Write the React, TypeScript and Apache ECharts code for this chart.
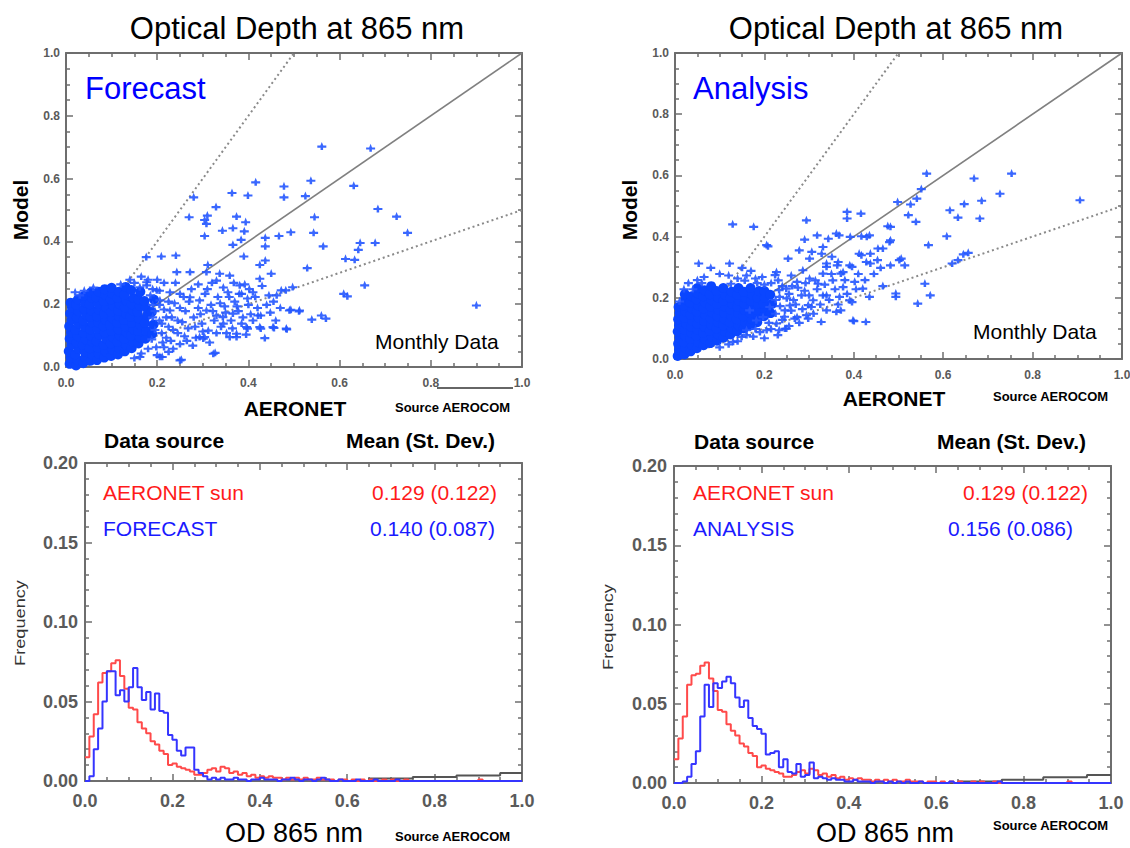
import React, { useEffect, useRef } from "react";
import * as echarts from "echarts";

const FONT = '"Liberation Sans", Arial, Helvetica, sans-serif';
const BIN = 0.01;
const AXIS_COLOR = "#6e6e6e";
const POINT_COLOR = "#2457ff";
const CORE_COLOR = "#0a46ff";

// ---- scatter: Forecast vs AERONET ----
const forecastCore = [
  [0.008,0.010],[0.010,0.030],[0.006,0.050],[0.012,0.070],[0.008,0.090],[0.011,0.110],[0.007,0.130],[0.012,0.150],[0.009,0.170],[0.013,0.190],[0.010,0.205],
  [0.022,0.005],[0.025,0.022],[0.020,0.040],[0.027,0.058],[0.023,0.078],[0.026,0.098],[0.021,0.118],[0.028,0.138],[0.024,0.158],[0.027,0.178],[0.022,0.198],[0.026,0.215],
  [0.038,0.012],[0.042,0.030],[0.040,0.050],[0.037,0.070],[0.043,0.088],[0.039,0.108],[0.041,0.128],[0.038,0.148],[0.044,0.166],[0.040,0.186],[0.042,0.206],[0.039,0.226],
  [0.054,0.020],[0.057,0.040],[0.052,0.060],[0.058,0.080],[0.055,0.100],[0.053,0.120],[0.058,0.140],[0.054,0.160],[0.056,0.180],[0.052,0.200],[0.057,0.220],[0.055,0.238],
  [0.068,0.022],[0.072,0.042],[0.070,0.062],[0.067,0.082],[0.073,0.102],[0.069,0.122],[0.071,0.142],[0.068,0.162],[0.072,0.182],[0.070,0.202],[0.066,0.222],[0.072,0.240],
  [0.084,0.030],[0.087,0.050],[0.083,0.070],[0.088,0.090],[0.085,0.110],[0.082,0.130],[0.087,0.150],[0.084,0.170],[0.088,0.190],[0.083,0.210],[0.086,0.230],[0.085,0.248],
  [0.099,0.035],[0.102,0.055],[0.098,0.075],[0.103,0.095],[0.100,0.115],[0.097,0.135],[0.102,0.155],[0.099,0.175],[0.103,0.195],[0.098,0.215],[0.101,0.235],[0.100,0.252],
  [0.114,0.040],[0.117,0.060],[0.113,0.080],[0.118,0.100],[0.115,0.120],[0.112,0.140],[0.117,0.160],[0.114,0.180],[0.118,0.200],[0.113,0.220],[0.116,0.240],
  [0.129,0.050],[0.132,0.070],[0.128,0.090],[0.133,0.110],[0.130,0.130],[0.127,0.150],[0.132,0.170],[0.129,0.190],[0.133,0.210],[0.128,0.230],[0.131,0.255],
  [0.144,0.060],[0.147,0.080],[0.143,0.100],[0.148,0.120],[0.145,0.140],[0.142,0.160],[0.147,0.180],[0.144,0.200],[0.148,0.220],[0.143,0.245],
  [0.159,0.075],[0.162,0.095],[0.158,0.115],[0.163,0.135],[0.160,0.155],[0.157,0.175],[0.162,0.195],[0.159,0.215],[0.163,0.240],
  [0.174,0.090],[0.177,0.115],[0.173,0.140],[0.178,0.165],[0.175,0.190],[0.172,0.210],
  [0.189,0.105],[0.192,0.135],[0.188,0.175],[0.193,0.215],
];
const forecastSpread = [
  [0.243,0.304],[0.272,0.304],[0.308,0.304],[0.330,0.277],[0.337,0.299],[0.359,0.293],[0.381,0.262],[0.385,0.235],[0.410,0.240],[0.425,0.283],
  [0.450,0.299],[0.472,0.246],[0.497,0.256],[0.512,0.182],[0.490,0.182],[0.421,0.166],[0.396,0.129],[0.374,0.108],[0.359,0.097],[0.425,0.129],
  [0.454,0.129],[0.483,0.124],[0.323,0.044],[0.293,0.097],[0.301,0.092],[0.206,0.034],[0.250,0.023],[0.162,0.034],[0.293,0.214],[0.308,0.182],
  [0.330,0.166],[0.344,0.161],[0.366,0.172],[0.272,0.224],[0.250,0.235],[0.228,0.182],[0.206,0.214],[0.199,0.246],[0.177,0.272],[0.162,0.256],
  [0.020,0.240],[0.195,0.120],[0.205,0.150],[0.215,0.185],[0.220,0.095],[0.225,0.130],[0.232,0.160],[0.238,0.205],[0.245,0.110],[0.250,0.075],
  [0.255,0.145],[0.262,0.180],[0.268,0.125],[0.275,0.250],[0.280,0.160],[0.285,0.095],[0.290,0.190],[0.298,0.140],[0.305,0.235],[0.312,0.118],
  [0.318,0.200],[0.325,0.150],[0.333,0.225],[0.340,0.130],[0.348,0.195],[0.355,0.240],[0.362,0.150],[0.370,0.210],[0.378,0.180],[0.385,0.140],
  [0.392,0.265],[0.400,0.200],[0.405,0.170],[0.415,0.225],[0.198,0.065],[0.212,0.080],[0.235,0.060],[0.265,0.085],[0.240,0.270],[0.258,0.225],
  [0.290,0.265],[0.320,0.270],[0.345,0.255],[0.200,0.280],[0.185,0.230],[0.190,0.200],[0.190,0.160],[0.188,0.090],[0.205,0.245],[0.228,0.240],
  [0.210,0.110],[0.225,0.050],[0.352,0.110],[0.368,0.270],[0.395,0.105],[0.410,0.150],[0.440,0.200],[0.448,0.175],[0.460,0.150],
  [0.150,0.030],[0.165,0.045],[0.180,0.060],[0.200,0.040],[0.215,0.065],[0.230,0.085],[0.245,0.150],[0.250,0.190],[0.260,0.100],[0.270,0.210],
  [0.278,0.070],[0.283,0.130],[0.295,0.170],[0.300,0.115],[0.310,0.250],[0.315,0.080],[0.322,0.180],[0.330,0.110],[0.338,0.205],[0.345,0.140],
  [0.350,0.175],[0.358,0.225],[0.365,0.125],[0.375,0.195],[0.380,0.235],[0.388,0.160],[0.398,0.220],[0.402,0.250],[0.420,0.190],[0.430,0.260],
  [0.445,0.230],[0.455,0.210],[0.470,0.190],[0.215,0.270],[0.225,0.210],[0.235,0.120],[0.195,0.180],[0.205,0.200],[0.210,0.140],[0.220,0.160],
  [0.180,0.280],[0.165,0.290],[0.150,0.270],[0.140,0.280],[0.120,0.265],[0.060,0.255],[0.040,0.245],[0.030,0.230],[0.177,0.262],[0.190,0.250],
];
const forecastOutliers = [
  [0.561,0.704],[0.668,0.698],[0.416,0.590],[0.478,0.577],[0.537,0.595],[0.631,0.579],[0.364,0.556],[0.399,0.548],[0.478,0.542],[0.525,0.546],
  [0.280,0.542],[0.329,0.511],[0.310,0.484],[0.304,0.470],[0.270,0.479],[0.374,0.481],[0.394,0.463],[0.545,0.479],[0.684,0.505],[0.725,0.481],
  [0.749,0.429],[0.343,0.436],[0.366,0.444],[0.391,0.434],[0.304,0.419],[0.437,0.413],[0.467,0.419],[0.493,0.431],[0.543,0.429],[0.384,0.407],
  [0.366,0.391],[0.437,0.386],[0.564,0.386],[0.645,0.397],[0.678,0.397],[0.641,0.375],[0.390,0.354],[0.176,0.352],[0.209,0.354],[0.241,0.357],
  [0.425,0.327],[0.437,0.341],[0.613,0.346],[0.633,0.343],[0.311,0.327],[0.529,0.317],[0.655,0.262],[0.609,0.235],[0.617,0.227],[0.482,0.246],
  [0.462,0.230],[0.900,0.198],[0.493,0.184],[0.511,0.179],[0.539,0.153],[0.560,0.166],[0.570,0.156],[0.427,0.166],[0.427,0.124],[0.456,0.126],
  [0.484,0.122],[0.436,0.094],[0.398,0.124],[0.374,0.097],[0.327,0.047],[0.253,0.025],[0.211,0.034],[0.304,0.097],[0.308,0.458],
];

// ---- scatter: Analysis vs AERONET ----
const analysisCore = [
  [0.006,0.010],[0.009,0.030],[0.007,0.050],[0.010,0.070],[0.006,0.090],[0.009,0.110],[0.007,0.130],[0.010,0.150],[0.008,0.170],
  [0.021,0.015],[0.024,0.035],[0.020,0.055],[0.023,0.075],[0.022,0.095],[0.025,0.115],[0.021,0.135],[0.024,0.155],[0.020,0.175],[0.023,0.195],[0.022,0.212],
  [0.035,0.025],[0.038,0.045],[0.034,0.065],[0.037,0.085],[0.036,0.105],[0.039,0.125],[0.035,0.145],[0.038,0.165],[0.034,0.185],[0.037,0.205],
  [0.049,0.035],[0.052,0.055],[0.048,0.075],[0.051,0.095],[0.050,0.115],[0.053,0.135],[0.049,0.155],[0.052,0.175],[0.048,0.195],[0.051,0.215],[0.050,0.232],
  [0.064,0.045],[0.067,0.065],[0.063,0.085],[0.066,0.105],[0.065,0.125],[0.068,0.145],[0.064,0.165],[0.067,0.185],[0.063,0.205],[0.066,0.225],
  [0.079,0.052],[0.082,0.072],[0.078,0.092],[0.081,0.112],[0.080,0.132],[0.083,0.152],[0.079,0.172],[0.082,0.192],[0.078,0.212],[0.081,0.238],
  [0.094,0.060],[0.097,0.080],[0.093,0.100],[0.096,0.120],[0.095,0.140],[0.098,0.160],[0.094,0.180],[0.097,0.200],[0.093,0.222],
  [0.109,0.070],[0.112,0.090],[0.108,0.110],[0.111,0.130],[0.110,0.150],[0.113,0.170],[0.109,0.190],[0.112,0.210],[0.108,0.232],
  [0.124,0.080],[0.127,0.100],[0.123,0.120],[0.126,0.140],[0.125,0.160],[0.128,0.180],[0.124,0.200],[0.127,0.220],
  [0.139,0.090],[0.142,0.110],[0.138,0.130],[0.141,0.150],[0.140,0.170],[0.143,0.190],[0.139,0.210],[0.142,0.232],
  [0.154,0.100],[0.157,0.120],[0.153,0.140],[0.156,0.160],[0.155,0.180],[0.158,0.200],[0.154,0.220],
  [0.169,0.110],[0.172,0.130],[0.168,0.150],[0.171,0.170],[0.170,0.190],[0.173,0.210],[0.169,0.232],
  [0.184,0.120],[0.187,0.140],[0.183,0.160],[0.186,0.180],[0.185,0.200],[0.188,0.222],
  [0.199,0.140],[0.202,0.160],[0.198,0.180],[0.201,0.200],[0.200,0.222],
  [0.214,0.150],[0.217,0.180],[0.213,0.210],
];
const analysisSpread = [
  [0.205,0.374],[0.361,0.412],[0.417,0.403],[0.435,0.406],[0.476,0.436],[0.454,0.363],[0.480,0.384],[0.502,0.325],[0.253,0.330],[0.301,0.330],
  [0.328,0.346],[0.339,0.314],[0.365,0.319],[0.376,0.286],[0.391,0.308],[0.417,0.341],[0.428,0.319],[0.227,0.286],[0.231,0.259],[0.260,0.275],
  [0.286,0.292],[0.301,0.265],[0.320,0.248],[0.331,0.281],[0.353,0.259],[0.376,0.237],[0.402,0.254],[0.420,0.232],[0.435,0.205],[0.391,0.194],
  [0.368,0.205],[0.339,0.210],[0.309,0.194],[0.283,0.210],[0.257,0.177],[0.234,0.205],[0.212,0.172],[0.246,0.161],[0.305,0.172],[0.339,0.161],
  [0.361,0.156],[0.398,0.128],[0.268,0.134],[0.294,0.145],[0.246,0.101],[0.227,0.118],[0.149,0.074],[0.130,0.058],[0.160,0.096],[0.205,0.096],
  [0.167,0.161],[0.182,0.128],[0.197,0.139],[0.215,0.250],[0.240,0.240],[0.255,0.215],[0.265,0.195],[0.275,0.235],[0.290,0.225],[0.225,0.150],
  [0.240,0.130],[0.255,0.110],[0.210,0.120],[0.190,0.090],[0.175,0.075],[0.150,0.300],[0.170,0.290],[0.195,0.270],[0.100,0.280],[0.080,0.300],
  [0.040,0.230],[0.030,0.250],
  [0.225,0.195],[0.235,0.175],[0.245,0.140],[0.250,0.200],[0.260,0.160],[0.262,0.240],[0.270,0.180],[0.278,0.120],[0.285,0.165],[0.292,0.250],
  [0.300,0.210],[0.310,0.150],[0.318,0.230],[0.325,0.180],[0.335,0.245],[0.345,0.195],[0.350,0.280],[0.358,0.230],[0.365,0.180],[0.380,0.260],
  [0.385,0.215],[0.405,0.230],[0.410,0.280],[0.425,0.260],[0.445,0.280],[0.460,0.300],[0.215,0.100],[0.230,0.080],[0.200,0.070],[0.180,0.100],
  [0.160,0.080],[0.140,0.060],[0.120,0.050],[0.100,0.040],[0.200,0.245],[0.180,0.265],[0.160,0.275],[0.140,0.265],[0.120,0.275],[0.060,0.250],
  [0.050,0.260],[0.020,0.230],[0.010,0.190],[0.125,0.248],[0.156,0.258],[0.184,0.250],
];
const analysisOutliers = [
  [0.563,0.608],[0.753,0.608],[0.669,0.592],[0.551,0.557],[0.727,0.542],[0.906,0.521],[0.498,0.515],[0.686,0.519],[0.527,0.507],[0.541,0.526],
  [0.647,0.508],[0.615,0.488],[0.633,0.464],[0.682,0.461],[0.522,0.472],[0.539,0.450],[0.385,0.483],[0.416,0.477],[0.385,0.461],[0.129,0.442],
  [0.176,0.434],[0.294,0.455],[0.208,0.370],[0.608,0.403],[0.567,0.374],[0.482,0.434],[0.482,0.390],[0.465,0.363],[0.392,0.401],[0.429,0.401],
  [0.367,0.406],[0.343,0.395],[0.318,0.406],[0.290,0.392],[0.278,0.357],[0.306,0.352],[0.331,0.368],[0.351,0.336],[0.363,0.308],[0.339,0.303],
  [0.371,0.281],[0.396,0.303],[0.412,0.346],[0.437,0.346],[0.453,0.325],[0.437,0.314],[0.482,0.308],[0.506,0.330],[0.514,0.308],[0.465,0.240],
  [0.494,0.216],[0.494,0.205],[0.559,0.248],[0.571,0.210],[0.543,0.183],[0.620,0.314],[0.633,0.325],[0.645,0.344],[0.656,0.349],[0.400,0.126],
  [0.427,0.123],[0.371,0.161],[0.396,0.188],[0.327,0.123],[0.298,0.134],[0.273,0.139],[0.249,0.101],[0.233,0.096],[0.331,0.210],[0.298,0.178],
  [0.314,0.259],[0.273,0.254],[0.249,0.232],[0.224,0.276],[0.233,0.227],[0.053,0.314],[0.122,0.314],[0.065,0.270],
];

// reference lines (1:1 and factor 2)
const oneToOne = [[0, 0], [1, 1]];
const factorTwoUpper = [[0, 0], [0.5, 1]];
const factorTwoLower = [[0, 0], [1, 0.5]];

// ---- histograms: frequency per 0.01 bin, starting at 0.00 ----
const aeronetFreq = [
  0.015,0.028,0.042,0.062,0.068,0.069,0.074,0.076,0.066,0.058,
  0.046,0.045,0.037,0.033,0.030,0.025,0.023,0.019,0.017,0.010,
  0.011,0.009,0.008,0.007,0.006,0.004,0.004,0.005,0.007,0.008,
  0.006,0.009,0.008,0.005,0.006,0.004,0.005,0.003,0.004,0.002,
  0.003,0.002,0.003,0.002,0.002,0.001,0.002,0.001,0.002,0.001,
  0.002,0.001,0.001,0.002,0.001,0.001,0.001,0.000,0.001,0.001,
  0.000,0.001,0.000,0.001,0.000,0.001,0.000,0.000,0.001,0.000,
  0.001,0.000,0.000,0.001,0.000,0.000,0.000,0.000,0.000,0.000,
  0.000,0.000,0.000,0.000,0.000,0.000,0.000,0.000,0.000,0.000,
  0.001,0.000,0.000,0.000,0.000,
];
const forecastFreq = [
  0.000,0.003,0.020,0.033,0.050,0.069,0.069,0.054,0.057,0.050,
  0.059,0.071,0.059,0.051,0.056,0.045,0.055,0.044,0.043,0.029,
  0.026,0.019,0.016,0.021,0.021,0.007,0.005,0.003,0.001,0.002,
  0.001,0.002,0.001,0.001,0.002,0.001,0.001,0.000,0.001,0.001,
  0.002,0.001,0.001,0.001,0.000,0.001,0.001,0.002,0.001,0.000,
  0.001,0.001,0.000,0.001,0.002,0.001,0.000,0.000,0.001,0.000,
  0.000,0.000,0.001,0.000,0.000,0.000,0.001,0.000,0.000,0.000,
  0.000,0.001,0.000,0.000,0.000,0.000,0.000,0.000,0.000,0.000,
  0.000,0.000,0.000,0.000,0.000,0.000,0.000,0.000,0.000,0.000,
  0.000,0.000,0.000,0.000,0.000,0.000,0.000,0.000,0.000,0.000,
];
const analysisFreq = [
  0.000,0.000,0.001,0.004,0.012,0.020,0.042,0.062,0.048,0.063,
  0.060,0.064,0.067,0.063,0.054,0.048,0.052,0.041,0.036,0.034,
  0.031,0.018,0.019,0.020,0.010,0.015,0.007,0.006,0.012,0.004,
  0.005,0.013,0.003,0.004,0.003,0.002,0.003,0.002,0.002,0.001,
  0.001,0.002,0.001,0.001,0.001,0.000,0.001,0.001,0.000,0.001,
  0.000,0.001,0.000,0.001,0.000,0.000,0.001,0.000,0.000,0.000,
  0.000,0.000,0.000,0.001,0.000,0.000,0.000,0.000,0.000,0.000,
  0.000,0.000,0.000,0.000,0.001,0.000,0.000,0.000,0.000,0.000,
  0.000,0.000,0.000,0.000,0.000,0.000,0.000,0.000,0.000,0.000,
  0.000,0.000,0.000,0.000,0.000,0.000,0.000,0.000,0.000,0.000,
];
// grey reference histogram at the high end (x, freq) steps
const greyStepsForecast = [[0.6, 0], [0.65, 0.0015], [0.75, 0.0025], [0.85, 0.0035], [0.95, 0.005], [1.0, 0.005]];
const greyStepsAnalysis = [[0.6, 0], [0.65, 0.001], [0.75, 0.002], [0.845, 0.0036], [0.945, 0.005], [1.0, 0.005]];

const toSteps = (vals: number[]) => {
  const pts = vals.map((v, i) => [Math.round(i * BIN * 1000) / 1000, v]);
  pts.push([Math.round(vals.length * BIN * 1000) / 1000, vals[vals.length - 1]]);
  return pts;
};

function axisPair(kind: "x" | "y", gridIndex: number, hist: boolean) {
  const isX = kind === "x";
  const max = isX ? 1 : hist ? 0.2 : 1;
  const interval = isX ? 0.2 : hist ? 0.05 : 0.2;
  const split = isX ? 4 : hist ? 5 : 4;
  const base = {
    type: "value",
    gridIndex,
    min: 0,
    max,
    interval,
    axisLine: { show: true, onZero: false, lineStyle: { color: AXIS_COLOR, width: 2 } },
    axisTick: { show: true, inside: true, length: 7, lineStyle: { color: AXIS_COLOR, width: 1.5 } },
    minorTick: { show: true, splitNumber: split, length: 4, lineStyle: { color: AXIS_COLOR, width: 1.5 } },
    splitLine: { show: false },
    minorSplitLine: { show: false },
  };
  const label = {
    show: true,
    fontFamily: FONT,
    fontWeight: "bold",
    color: "#5a5a5a",
    fontSize: hist ? 18 : 12,
    margin: hist ? (isX ? 11 : 7) : isX ? 10 : 6,
    formatter: (v: number) => (hist && !isX ? v.toFixed(2) : v.toFixed(1)),
  };
  return [
    { ...base, position: isX ? "bottom" : "left", axisLabel: label },
    { ...base, position: isX ? "top" : "right", axisLabel: { show: false } },
  ];
}

type TOpt = { size: number; weight?: string; color?: string; align?: string; rotation?: number; scaleX?: number };
function txt(text: string, x: number, y: number, o: TOpt) {
  return {
    type: "text",
    x,
    y,
    rotation: o.rotation || 0,
    scaleX: o.scaleX || 1,
    silent: true,
    z: 100,
    style: {
      text,
      fontSize: o.size,
      fontFamily: FONT,
      fontWeight: o.weight || "normal",
      fill: o.color || "#000",
      textAlign: o.align || "left",
      align: o.align || "left",
      textVerticalAlign: "middle",
      verticalAlign: "middle",
    },
  };
}

export default function App() {
  const ref = useRef<HTMLDivElement>(null);
  useEffect(() => {
    if (!ref.current) return;
    const chart = echarts.init(ref.current, undefined, { renderer: "svg" });

    const grids = [
      { left: 66, top: 53, width: 456, height: 314 },
      { left: 675, top: 53, width: 447, height: 306 },
      { left: 85, top: 463, width: 437, height: 318 },
      { left: 674, top: 466, width: 437, height: 317 },
    ].map((g) => ({ ...g, outerBoundsMode: "none", containLabel: false, show: false }));

    const xAxis = [
      ...axisPair("x", 0, false),
      ...axisPair("x", 1, false),
      ...axisPair("x", 2, true),
      ...axisPair("x", 3, true),
    ];
    const yAxis = [
      ...axisPair("y", 0, false),
      ...axisPair("y", 1, false),
      ...axisPair("y", 2, true),
      ...axisPair("y", 3, true),
    ];

    const refLines = (g: number) => [
      { type: "line", xAxisIndex: 2 * g, yAxisIndex: 2 * g, data: oneToOne, showSymbol: false, silent: true, z: 2,
        lineStyle: { color: "#808080", width: 1.6 } },
      { type: "line", xAxisIndex: 2 * g, yAxisIndex: 2 * g, data: factorTwoUpper, showSymbol: false, silent: true, z: 2,
        lineStyle: { color: "#8a8a8a", width: 2, type: [2, 3] } },
      { type: "line", xAxisIndex: 2 * g, yAxisIndex: 2 * g, data: factorTwoLower, showSymbol: false, silent: true, z: 2,
        lineStyle: { color: "#8a8a8a", width: 2, type: [2, 3] } },
    ];

    const marker = "path://M5,0 L6.6,4 L10,4 L10,6.4 L6.4,6.4 L6.4,9 L3.6,9 L3.6,6.4 L0,6.4 L0,4 L3.4,4 Z";
    const scatter = (g: number, data: number[][]) => ({
      type: "scatter",
      xAxisIndex: 2 * g,
      yAxisIndex: 2 * g,
      data,
      symbol: marker,
      symbolSize: [9, 8],
      silent: true,
      z: 4,
      itemStyle: { color: POINT_COLOR, opacity: 0.9 },
    });
    const core = (g: number, data: number[][]) => ({
      type: "scatter",
      xAxisIndex: 2 * g,
      yAxisIndex: 2 * g,
      data,
      symbol: "circle",
      symbolSize: 10,
      silent: true,
      z: 3,
      itemStyle: { color: CORE_COLOR, opacity: 1 },
    });

    const stepLine = (g: number, data: number[][], color: string, z: number) => ({
      type: "line",
      xAxisIndex: 2 * g,
      yAxisIndex: 2 * g,
      data,
      step: "end",
      showSymbol: false,
      silent: true,
      z,
      lineStyle: { color, width: 2 },
    });

    const graphic = [
      // scatter 1
      txt("Optical Depth at 865 nm", 297, 28, { size: 31, align: "center" }),
      txt("Forecast", 85, 88, { size: 31, color: "#0000ff" }),
      txt("Model", 20, 210, { size: 21, weight: "bold", align: "center", rotation: Math.PI / 2 }),
      txt("AERONET", 295, 408, { size: 21, weight: "bold", align: "center" }),
      txt("Source AEROCOM", 395, 407, { size: 13, weight: "bold" }),
      txt("Monthly Data", 375, 341, { size: 21 }),
      { type: "line", silent: true, shape: { x1: 437, y1: 388, x2: 513, y2: 388 }, style: { stroke: "#333", lineWidth: 1.5 } },
      // scatter 2
      txt("Optical Depth at 865 nm", 896, 28, { size: 31, align: "center" }),
      txt("Analysis", 693, 88, { size: 31, color: "#0000ff" }),
      txt("Model", 629, 210, { size: 21, weight: "bold", align: "center", rotation: Math.PI / 2 }),
      txt("AERONET", 894, 398, { size: 21, weight: "bold", align: "center" }),
      txt("Source AEROCOM", 993, 396, { size: 13, weight: "bold" }),
      txt("Monthly Data", 973, 331, { size: 21 }),
      // histogram 1
      txt("Data source", 104, 440, { size: 21, weight: "bold" }),
      txt("Mean (St. Dev.)", 495, 440, { size: 21, weight: "bold", align: "right" }),
      txt("AERONET sun", 103, 492, { size: 21, color: "#ff1a1a" }),
      txt("FORECAST", 103, 528, { size: 21, color: "#1a1aff" }),
      txt("0.129 (0.122)", 497, 492, { size: 21, color: "#ff1a1a", align: "right" }),
      txt("0.140 (0.087)", 495, 528, { size: 21, color: "#1a1aff", align: "right" }),
      txt("Frequency", 20, 623, { size: 14, align: "center", rotation: Math.PI / 2, scaleX: 1.3, color: "#333" }),
      txt("OD 865 nm", 294, 833, { size: 27, align: "center" }),
      txt("Source AEROCOM", 395, 836, { size: 13, weight: "bold" }),
      // histogram 2
      txt("Data source", 694, 441, { size: 21, weight: "bold" }),
      txt("Mean (St. Dev.)", 1086, 441, { size: 21, weight: "bold", align: "right" }),
      txt("AERONET sun", 693, 492, { size: 21, color: "#ff1a1a" }),
      txt("ANALYSIS", 693, 528, { size: 21, color: "#1a1aff" }),
      txt("0.129 (0.122)", 1088, 492, { size: 21, color: "#ff1a1a", align: "right" }),
      txt("0.156 (0.086)", 1073, 528, { size: 21, color: "#1a1aff", align: "right" }),
      txt("Frequency", 608, 627, { size: 14, align: "center", rotation: Math.PI / 2, scaleX: 1.3, color: "#333" }),
      txt("OD 865 nm", 885, 833, { size: 27, align: "center" }),
      txt("Source AEROCOM", 993, 825, { size: 13, weight: "bold" }),
    ];

    chart.setOption({
      animation: false,
      backgroundColor: "#ffffff",
      grid: grids,
      xAxis,
      yAxis,
      series: [
        ...refLines(0),
        core(0, forecastCore),
        scatter(0, [...forecastSpread, ...forecastOutliers]),
        ...refLines(1),
        core(1, analysisCore),
        scatter(1, [...analysisSpread, ...analysisOutliers]),
        stepLine(2, greyStepsForecast, "#555555", 2),
        stepLine(2, toSteps(aeronetFreq), "#ff4a4a", 3),
        stepLine(2, toSteps(forecastFreq), "#3535ff", 4),
        stepLine(3, greyStepsAnalysis, "#555555", 2),
        stepLine(3, toSteps(aeronetFreq), "#ff4a4a", 3),
        stepLine(3, toSteps(analysisFreq), "#3535ff", 4),
      ],
      graphic,
    });
    return () => chart.dispose();
  }, []);
  return <div ref={ref} style={{ position: "absolute", left: 0, top: 0, width: 1130, height: 848, background: "#fff" }} />;
}
